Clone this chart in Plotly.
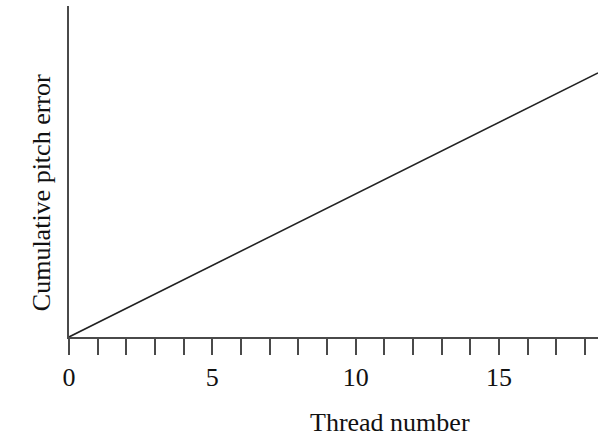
import plotly.graph_objects as go

# Data
thread_number = [0, 18.45]
cumulative_error = [0, 7.98]
x_tick_vals = [0, 5, 10, 15]
x_tick_text = ["0", "5", "10", "15"]
x_title = "Thread number"
y_title = "Cumulative pitch error"

FONT = "Liberation Serif, Times New Roman, serif"
AXIS_COLOR = "#4a4a4a"
FS = 26

fig = go.Figure()
fig.add_trace(go.Scatter(
    x=thread_number, y=cumulative_error, mode="lines",
    line=dict(color="#222222", width=1.6), showlegend=False, hoverinfo="skip",
))

fig.update_layout(
    width=608, height=436,
    margin=dict(l=69, r=10, t=6, b=99),
    paper_bgcolor="white", plot_bgcolor="white",
    font=dict(family=FONT, size=FS, color="#111111"),
    xaxis=dict(
        range=[0, 18.45], showgrid=False, zeroline=False,
        showline=True, linecolor=AXIS_COLOR, linewidth=1.6,
        tickmode="array", tickvals=x_tick_vals, ticktext=x_tick_text,
        ticks="outside", ticklen=16, tickwidth=1.6, tickcolor=AXIS_COLOR,
        ticklabelstandoff=0,
        tickfont=dict(family=FONT, size=FS, color="#111111"),
        minor=dict(dtick=1, tick0=0, ticks="outside", ticklen=16,
                   tickwidth=1.6, tickcolor=AXIS_COLOR, showgrid=False),
    ),
    yaxis=dict(
        range=[0, 10], showgrid=False, zeroline=False,
        showline=True, linecolor=AXIS_COLOR, linewidth=1.6,
        showticklabels=False, ticks="",
    ),
    annotations=[
        dict(text=x_title, xref="paper", yref="paper", x=0.607, y=-0.258,
             xanchor="center", yanchor="middle", showarrow=False,
             font=dict(family=FONT, size=FS, color="#111111")),
        dict(text=y_title, xref="paper", yref="paper", x=-0.052, y=0.436,
             xanchor="center", yanchor="middle", showarrow=False, textangle=-90,
             font=dict(family=FONT, size=FS, color="#111111")),
    ],
)

fig.write_html("out.html", config={"displayModeBar": False},
               post_script="document.body.style.margin='0';")
